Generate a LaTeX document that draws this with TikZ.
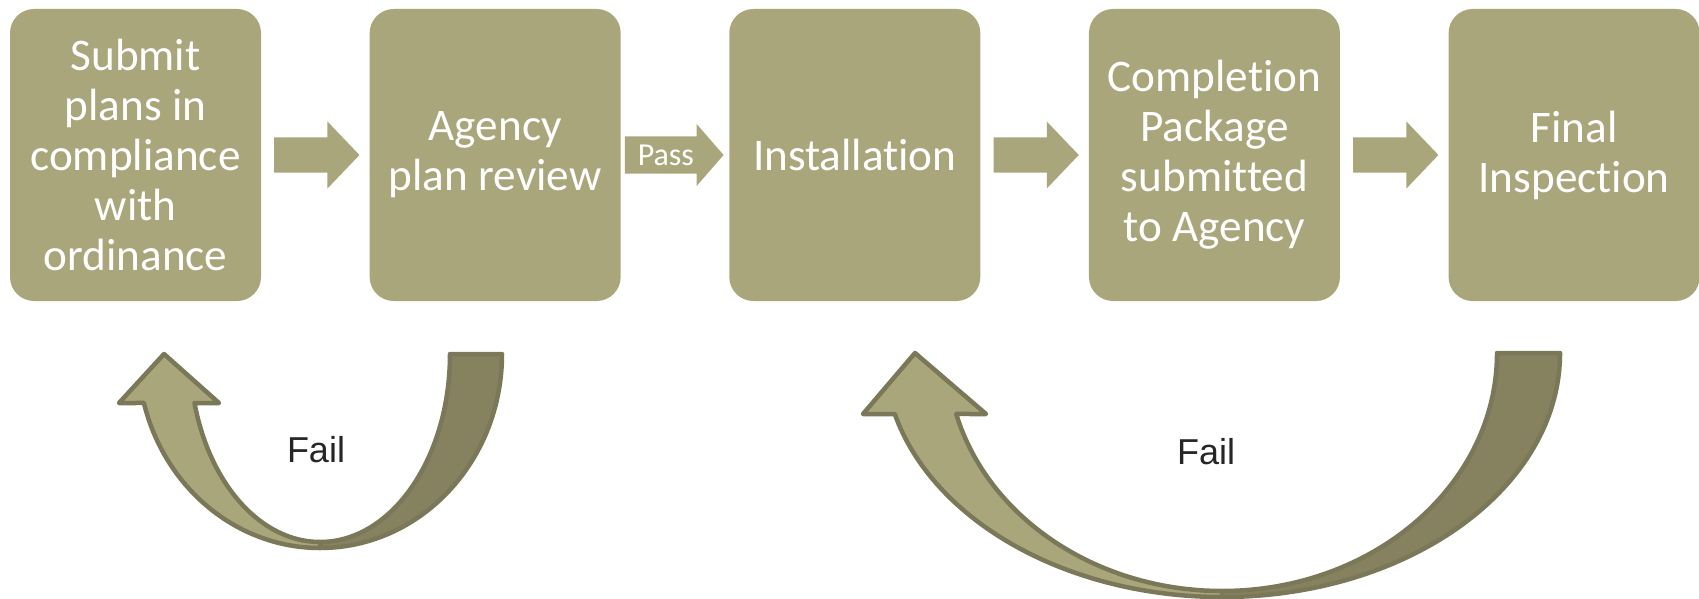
\documentclass[tikz,border=0pt]{standalone}
\usepackage{fontspec}
\usetikzlibrary{positioning,calc}
\newfontfamily\stagefont[RawFeature=-liga]{Carlito}
\newfontfamily\failfont{Liberation Sans}
\definecolor{stageolive}{HTML}{AAA67C}
\definecolor{backolive}{HTML}{868260}
\definecolor{edgeolive}{HTML}{7A7858}
\definecolor{failgray}{HTML}{262626}

\begin{document}
\begin{tikzpicture}[x=1pt, y=-1pt,
    stage/.style={rectangle, rounded corners=24pt, fill=stageolive, text=white,
      minimum width=251pt, minimum height=292pt, inner sep=0pt, align=center,
      font={\stagefont\fontsize{45.2}{50}\selectfont}},
    flow/.style={fill=stageolive},
    passlabel/.style={text=white, inner sep=0pt, font={\stagefont\fontsize{32}{38}\selectfont}},
    uturnfront/.style={fill=stageolive, draw=edgeolive, line width=4.5pt, line join=round},
    uturnback/.style={fill=backolive, draw=edgeolive, line width=4.5pt, line join=round},
    fail/.style={text=failgray, font={\failfont\fontsize{36}{43}\selectfont}}
  ]
  \useasboundingbox (0,0) rectangle (1699,599);
  \node[stage] (s1) at (135.5,155) {Submit\\plans in\\compliance\\with\\ordinance};
  \node[stage, right=108.25pt of s1] (s2) {Agency\\plan review};
  \node[stage, right=108.25pt of s2] (s3) {Installation};
  \node[stage, right=108.25pt of s3] (s4) {Completion\\Package\\submitted\\to Agency};
  \node[stage, right=108.25pt of s4] (s5) {Final\\Inspection};

  \fill[flow] ($(s1.east)+(13,-17.5)$) -| ($(s2.west)+(-42,-33.5)$) -- ($(s2.west)+(-10,0)$)
    -- ($(s2.west)+(-42,33.5)$) |- ($(s1.east)+(13,17.5)$) -- cycle;
  \fill[flow] ($(s2.east)+(4,-18.5)$) -| ($(s3.west)+(-32.5,-31)$) -- ($(s3.west)+(-5.5,0)$)
    -- ($(s3.west)+(-32.5,31)$) |- ($(s2.east)+(4,18.5)$) -- cycle;
  \node[passlabel] (pass) at ($(s2.east)+(45,0)$) {Pass};
  \fill[flow] ($(s3.east)+(13,-17.5)$) -| ($(s4.west)+(-42,-33.5)$) -- ($(s4.west)+(-10,0)$)
    -- ($(s4.west)+(-42,33.5)$) |- ($(s3.east)+(13,17.5)$) -- cycle;
  \fill[flow] ($(s4.east)+(13,-17.5)$) -| ($(s5.west)+(-42,-33.5)$) -- ($(s5.west)+(-10,0)$)
    -- ($(s5.west)+(-42,33.5)$) |- ($(s4.east)+(13,17.5)$) -- cycle;

  % fail loop back to the plans
  \coordinate (turn1) at (320,354);
  \filldraw[uturnback] ($(turn1)+(182,0)$) arc[start angle=0, end angle=90, x radius=182, y radius=194]
    -- ($(turn1)+(0,188)$) arc[start angle=90, end angle=0, x radius=130, y radius=188] -- cycle;
  \filldraw[uturnfront] ($(turn1)+(0,194)$) arc[start angle=90, end angle=165.37, x radius=182, y radius=194]
    -- ($(turn1)+(-201,49)$) -- ($(turn1)+(-156,0)$) -- ($(turn1)+(-101,49)$)
    -- ($(turn1)+(164.89:130 and 188)$) arc[start angle=164.89, end angle=90, x radius=130, y radius=188] -- cycle;
  \node[fail] (fail1) at (316,450) {Fail};

  % fail loop back to the installation
  \coordinate (turn2) at (1222,353);
  \filldraw[uturnback] ($(turn2)+(338,0)$) arc[start angle=0, end angle=90, x radius=338, y radius=244]
    -- ($(turn2)+(0,238)$) arc[start angle=90, end angle=0, x radius=275, y radius=238] -- cycle;
  \filldraw[uturnfront] ($(turn2)+(0,244)$) arc[start angle=90, end angle=165.52, x radius=338, y radius=244]
    -- ($(turn2)+(-359,61)$) -- ($(turn2)+(-307,0)$) -- ($(turn2)+(-236,61)$)
    -- ($(turn2)+(165.15:275 and 238)$) arc[start angle=165.15, end angle=90, x radius=275, y radius=238] -- cycle;
  \node[fail] (fail2) at (1206,452) {Fail};
\end{tikzpicture}
\end{document}
